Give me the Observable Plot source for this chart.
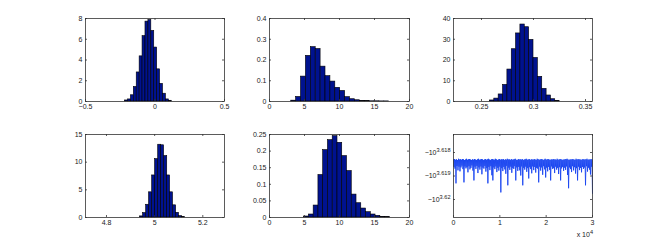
<!DOCTYPE html>
<html>
<head>
<meta charset="utf-8">
<script src="https://cdn.jsdelivr.net/npm/d3@7"></script>
<script src="https://cdn.jsdelivr.net/npm/@observablehq/plot@0.6"></script>
<style>
  html, body { margin: 0; padding: 0; background: #fff; }
  #chart { position: relative; width: 654px; height: 245px; overflow: hidden; }
</style>
</head>
<body>
<div id="chart"></div>
<script>
// ---------- data ----------
// Panel 1 histogram
const p1Centers = [-0.205,-0.184,-0.163,-0.142,-0.121,-0.100,-0.079,-0.058,-0.037,-0.016,0.005,0.026,0.047,0.068,0.089,0.110];
const p1Heights = [0.1,0.2,0.6,1.4,2.8,4.35,6.3,7.7,7.85,6.8,5.2,3.1,1.7,0.75,0.2,0.07];
const p1BinWidth = 0.021;
const p1XTicks = [-0.5, 0, 0.5];
const p1YTicks = [0, 2, 4, 6, 8];

// Panel 2 histogram
const p2Centers = [3.45,4.15,4.85,5.55,6.25,6.95,7.65,8.35,9.05,9.75,10.45,11.15,11.85,12.55,13.25,13.95,14.65,15.35,16.05,16.75];
const p2Heights = [0.004,0.022,0.12,0.22,0.262,0.253,0.168,0.122,0.096,0.066,0.051,0.021,0.011,0.006,0.003,0.002,0.001,0.001,0.0005,0.0005];
const p2BinWidth = 0.7;
const p2XTicks = [0, 5, 10, 15, 20];
const p2YTicks = [0, 0.1, 0.2, 0.3, 0.4];

// Panel 3 histogram
const p3Centers = [0.2602,0.2644,0.2686,0.2728,0.2770,0.2812,0.2853,0.2895,0.2937,0.2979,0.3021,0.3063,0.3105,0.3147,0.3188,0.3230];
const p3Heights = [0.5,1.4,3.4,8,15.4,25.2,32.8,37.1,35.8,29.7,21,11.9,6.1,2.9,1.1,0.3];
const p3BinWidth = 0.0042;
const p3XTicks = [0.25, 0.3, 0.35];
const p3YTicks = [0, 10, 20, 30, 40];

// Panel 4 histogram
const p4Centers = [4.946,4.958,4.971,4.983,4.996,5.008,5.021,5.033,5.046,5.058,5.070,5.083,5.095,5.108,5.120];
const p4Heights = [0.2,0.8,2.3,4.55,7.6,10.55,13.15,13.05,11.1,7.6,4.55,2.2,0.85,0.25,0.06];
const p4BinWidth = 0.01245;
const p4XTicks = [4.8, 5, 5.2];
const p4YTicks = [0, 5, 10, 15];

// Panel 5 histogram
const p5Centers = [5.29,5.97,6.65,7.33,8.01,8.69,9.37,10.05,10.73,11.41,12.09,12.77,13.45,14.13,14.81,15.49,16.17,16.85];
const p5Heights = [0.003,0.009,0.036,0.128,0.203,0.233,0.245,0.225,0.185,0.14,0.069,0.043,0.027,0.016,0.009,0.005,0.002,0.001];
const p5BinWidth = 0.68;
const p5XTicks = [0, 5, 10, 15, 20];
const p5YTicks = [0, 0.05, 0.1, 0.15, 0.2, 0.25];

// Panel 6 trace (samples over 0..30000), upper / lower envelope samples
const p6Length = 30000;
const traceUpper = [
-4152.4,-4152.2,-4152.5,-4152.3,-4152.6,-4152.1,-4152.4,-4152.3,-4152.5,-4152.2,
-4152.3,-4152.6,-4152.4,-4152.1,-4152.5,-4152.3,-4152.2,-4152.4,-4152.6,-4152.3,
-4152.5,-4152.2,-4152.4,-4152.6,-4152.3,-4152.1,-4152.5,-4152.4,-4152.2,-4152.3,
-4152.6,-4152.4,-4152.2,-4152.5,-4152.3,-4152.1,-4152.4,-4152.6,-4152.3,-4152.2,
-4152.4,-4152.5,-4152.1,-4152.3,-4152.6,-4152.4,-4152.2,-4152.5,-4152.3,-4152.4,
-4152.2,-4152.6,-4152.3,-4152.5,-4152.1,-4152.4,-4152.3,-4152.6,-4152.2,-4152.5,
-4152.4,-4152.3,-4152.1,-4152.5,-4152.6,-4152.2,-4152.4,-4152.3,-4152.5,-4152.2,
-4152.6,-4152.4,-4152.3,-4152.1,-4152.5,-4152.4,-4152.2,-4152.6,-4152.3,-4152.4,
-4152.5,-4152.2,-4152.4,-4152.6,-4152.1,-4152.3,-4152.5,-4152.4,-4152.2,-4152.3,
-4152.6,-4152.4,-4152.1,-4152.5,-4152.3,-4152.2,-4152.4,-4152.6,-4152.3,-4152.5,
-4152.2,-4152.4,-4152.3,-4152.6,-4152.1,-4152.5,-4152.4,-4152.2,-4152.3,-4152.6,
-4152.4,-4152.5,-4152.2,-4152.3,-4152.1,-4152.4,-4152.6,-4152.3,-4152.5,-4152.2,
-4152.3,-4152.4,-4152.6,-4152.1,-4152.5,-4152.2,-4152.4,-4152.3,-4152.6,-4152.4,
-4152.2,-4152.5,-4152.3,-4152.4,-4152.1,-4152.6,-4152.3,-4152.5,-4152.2,-4152.4
];
const traceLower = [
-4155.4,-4156.1,-4162.1,-4155.0,-4156.8,-4155.3,-4157.2,-4155.6,-4154.9,-4156.3,
-4161.7,-4155.2,-4156.0,-4155.5,-4157.6,-4155.1,-4156.4,-4155.8,-4154.8,-4156.9,
-4160.9,-4155.3,-4156.2,-4155.0,-4157.9,-4155.6,-4156.5,-4155.2,-4158.4,-4155.7,
-4156.1,-4155.0,-4157.3,-4155.9,-4162.1,-4155.4,-4156.7,-4155.1,-4158.8,-4160.9,
-4155.6,-4156.3,-4155.2,-4157.5,-4155.8,-4156.9,-4155.3,-4165.8,-4155.9,-4157.1,
-4155.4,-4156.4,-4158.2,-4155.0,-4162.9,-4155.7,-4156.6,-4155.3,-4157.8,-4155.9,
-4156.2,-4155.1,-4160.9,-4155.6,-4157.0,-4155.4,-4156.8,-4158.9,-4155.2,-4162.9,
-4155.8,-4156.5,-4155.3,-4157.4,-4155.9,-4160.1,-4155.5,-4156.3,-4158.0,-4155.2,
-4156.7,-4155.4,-4157.7,-4155.8,-4156.1,-4161.7,-4155.3,-4156.9,-4155.6,-4158.6,
-4155.1,-4156.4,-4159.7,-4155.7,-4157.2,-4155.4,-4156.6,-4160.9,-4155.2,-4156.2,
-4155.9,-4157.9,-4155.3,-4156.5,-4155.8,-4158.3,-4155.5,-4160.9,-4156.0,-4155.4,
-4157.0,-4155.7,-4156.6,-4155.2,-4158.7,-4164.1,-4155.6,-4156.3,-4157.5,-4155.1,
-4156.8,-4155.5,-4158.1,-4155.9,-4160.9,-4155.3,-4156.7,-4155.8,-4157.6,-4155.4,
-4156.2,-4155.6,-4162.9,-4155.1,-4157.3,-4155.7,-4156.5,-4158.5,-4155.3,-4166.2
];
const p6XTicks = [0, 10000, 20000, 30000];
const p6YTickExponents = [3.618, 3.619, 3.62];

// ---------- rendering ----------
const W = 654, H = 245;
const BAR = "#00128f", AX = "#333", TXT = "#1a1a1a", LINE = "#1a45f0";
const FONT = "Liberation Sans, Arial, Helvetica, sans-serif";
const fmt = d => (d < 0 ? "\u2212" : "") + String(Math.abs(+(+d).toFixed(6)));

function basePanel({box, x, y, xTicks, yTicks, xFormat = fmt, yFormat = fmt, marks}) {
  const [l, t, r, b] = box;
  const iw = r - l, ih = b - t, tl = 2;
  return Plot.plot({
    width: W, height: H,
    marginLeft: l, marginTop: t, marginRight: W - r, marginBottom: H - b,
    style: {position: "absolute", left: "0px", top: "0px", background: "transparent",
            fontFamily: FONT, fontSize: "7px", overflow: "visible"},
    x: {...x, label: null},
    y: {...y, label: null},
    marks: [
      ...marks,
      Plot.frame({stroke: AX, strokeWidth: 0.8}),
      Plot.tickX(xTicks, {x: d => d, insetTop: ih - tl, stroke: AX, strokeWidth: 0.8}),
      Plot.tickX(xTicks, {x: d => d, insetBottom: ih - tl, stroke: AX, strokeWidth: 0.8}),
      Plot.tickY(yTicks, {y: d => d, insetRight: iw - tl, stroke: AX, strokeWidth: 0.8}),
      Plot.tickY(yTicks, {y: d => d, insetLeft: iw - tl, stroke: AX, strokeWidth: 0.8}),
      Plot.axisX({ticks: xTicks, tickSize: 0, tickPadding: 3, tickFormat: xFormat, fill: TXT, fontSize: 7, fontFamily: FONT}),
      Plot.axisY({ticks: yTicks, tickSize: 0, tickPadding: 3, tickFormat: yFormat, fill: TXT, fontSize: 7, fontFamily: FONT})
    ]
  });
}

function histPanel(box, xDomain, xTicks, yDomain, yTicks, centers, heights, w) {
  const bins = centers.map((c, i) => ({x1: c - w / 2, x2: c + w / 2, h: heights[i]}));
  return basePanel({
    box, x: {domain: xDomain}, y: {domain: yDomain}, xTicks, yTicks,
    marks: [Plot.rectY(bins, {x1: "x1", x2: "x2", y: "h", fill: BAR, stroke: "#000", strokeWidth: 0.6})]
  });
}

const chart = document.getElementById("chart");
const col = [[85, 224], [269, 409], [453, 592]];
const row = [[18, 101], [134, 217]];
const bx = (c, r) => [col[c][0], row[r][0], col[c][1], row[r][1]];

chart.append(histPanel(bx(0,0), [-0.5, 0.5], p1XTicks, [0, 8], p1YTicks, p1Centers, p1Heights, p1BinWidth));
chart.append(histPanel(bx(1,0), [0, 20], p2XTicks, [0, 0.4], p2YTicks, p2Centers, p2Heights, p2BinWidth));
chart.append(histPanel(bx(2,0), [0.22308, 0.35673], p3XTicks, [0, 40], p3YTicks, p3Centers, p3Heights, p3BinWidth));
chart.append(histPanel(bx(0,1), [4.7128, 5.2901], p4XTicks, [0, 15], p4YTicks, p4Centers, p4Heights, p4BinWidth));
chart.append(histPanel(bx(1,1), [0, 20], p5XTicks, [0, 0.25], p5YTicks, p5Centers, p5Heights, p5BinWidth));

// trace panel
const trace = [];
traceUpper.forEach((u, j) => { trace.push(u); trace.push(traceLower[j]); });
const traceData = trace.map((v, i) => ({t: i * p6Length / (trace.length - 1), e: Math.log10(-v)}));
const svg6 = basePanel({
  box: bx(2,1),
  x: {domain: [0, p6Length]},
  y: {domain: [3.620766, 3.617234]},
  xTicks: p6XTicks, yTicks: p6YTickExponents,
  xFormat: d => String(d / 10000),
  yFormat: d => "\u221210^" + d,
  marks: [Plot.line(traceData, {x: "t", y: "e", stroke: LINE, strokeWidth: 0.9})]
});
chart.append(svg6);

// superscripts
const NS = "http://www.w3.org/2000/svg";
svg6.querySelectorAll("text").forEach(t => {
  const s = t.textContent;
  if (s.includes("^")) {
    const [base, sup] = s.split("^");
    t.textContent = "";
    const a = document.createElementNS(NS, "tspan"); a.textContent = base; t.appendChild(a);
    const b = document.createElementNS(NS, "tspan");
    b.setAttribute("dy", "-0.5em"); b.setAttribute("font-size", "0.8em"); b.textContent = sup;
    t.appendChild(b);
  }
});
const ex = document.createElementNS(NS, "text");
ex.setAttribute("x", 593); ex.setAttribute("y", 237);
ex.setAttribute("text-anchor", "end"); ex.setAttribute("fill", TXT);
ex.setAttribute("font-size", 7); ex.setAttribute("font-family", FONT);
const ex1 = document.createElementNS(NS, "tspan"); ex1.textContent = "x 10"; ex.appendChild(ex1);
const ex2 = document.createElementNS(NS, "tspan"); ex2.textContent = "4";
ex2.setAttribute("dy", "-0.5em"); ex2.setAttribute("font-size", "0.8em"); ex.appendChild(ex2);
svg6.appendChild(ex);
</script>
</body>
</html>
